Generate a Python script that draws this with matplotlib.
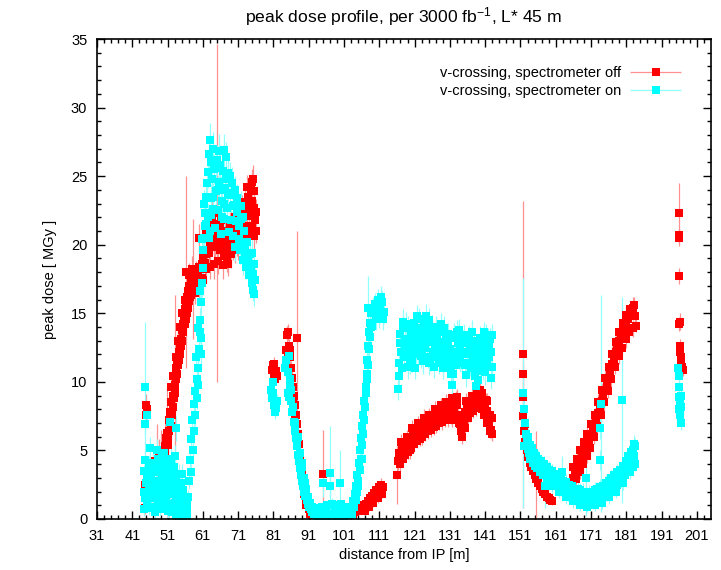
import numpy as np
import matplotlib
matplotlib.use('Agg')
import matplotlib.pyplot as plt
from matplotlib.legend_handler import HandlerErrorbar

# peak dose profile: (distance [m], dose [MGy], error [MGy])

# ---- v-crossing, spectrometer off ----
off_quads = [
    (44.5, 0.8, 0.4), (44.6, 2.5, 0.6), (44.7, 1.6, 0.5), (44.8, 8.3, 0.8), (45.0, 7.6, 0.7),
    (45.2, 8.0, 0.6), (46.4, 1.8, 0.9), (47.0, 3.4, 1.4), (47.4, 4.2, 0.8), (48.0, 3.9, 3.0),
    (48.6, 4.6, 1.2), (49.2, 4.3, 2.2), (49.8, 4.5, 1.0), (50.2, 5.3, 1.8), (50.6, 5.9, 1.0),
    (50.9, 6.3, 3.5), (51.2, 6.0, 0.8), (51.5, 7.2, 1.0), (51.8, 7.8, 1.2), (52.1, 8.5, 0.9),
    (52.4, 9.0, 1.0), (52.7, 9.6, 0.8), (53.0, 10.4, 1.1), (53.2, 9.8, 6.5), (53.5, 11.0, 0.9),
    (53.8, 11.6, 1.0), (54.1, 12.2, 0.8), (54.4, 12.6, 1.2), (54.7, 13.1, 0.9), (55.0, 13.8, 1.0),
    (55.3, 14.2, 0.8), (55.6, 14.8, 1.1), (55.9, 15.3, 0.9), (56.2, 18.0, 7.0), (56.2, 15.7, 0.8),
    (56.5, 16.2, 1.0), (56.8, 16.6, 0.9), (57.1, 17.0, 0.8), (57.5, 17.2, 1.0), (57.9, 17.0, 0.9),
    (58.3, 17.5, 4.4), (58.7, 17.4, 0.8), (59.1, 17.8, 1.0), (59.5, 17.9, 0.9), (59.9, 18.4, 0.8),
    (60.3, 18.2, 1.1), (60.7, 18.6, 0.9), (61.1, 19.0, 1.0), (61.5, 18.7, 0.8), (61.9, 19.3, 1.2),
    (62.3, 19.6, 0.9), (62.7, 19.4, 1.0), (63.1, 19.9, 0.8), (63.5, 21.8, 1.5), (63.5, 20.2, 0.9),
    (63.9, 20.6, 1.0), (64.3, 19.8, 0.8), (64.7, 20.4, 1.1), (64.9, 22.3, 12.3), (65.4, 20.9, 0.9),
    (65.8, 19.6, 1.0), (66.2, 20.3, 0.8), (66.6, 19.9, 1.2), (67.0, 19.2, 0.9), (67.4, 19.8, 1.0),
    (67.8, 20.5, 0.8), (68.2, 19.5, 1.1), (68.6, 20.1, 0.9), (69.0, 20.8, 1.0), (69.4, 19.7, 0.8),
    (69.8, 20.4, 1.0), (70.2, 21.0, 0.9), (70.6, 20.3, 1.1), (71.0, 21.5, 0.8), (71.4, 20.8, 1.0),
    (71.8, 21.9, 0.9), (72.2, 22.6, 1.0), (72.6, 21.4, 0.8), (73.0, 23.1, 1.1), (73.4, 24.2, 0.9),
    (73.8, 23.5, 1.0), (74.2, 22.1, 0.8), (74.6, 24.0, 1.0), (75.0, 23.2, 0.9), (75.4, 22.7, 1.1),
    (75.8, 21.8, 0.8), (76.2, 21.0, 0.9), (73.6, 22.5, 1.0), (74.9, 24.6, 0.9), (75.6, 23.9, 1.0),
    (60.0, 20.5, 1.0), (61.0, 17.4, 0.9), (62.0, 21.0, 1.2), (66.0, 21.8, 1.0), (68.0, 18.6, 0.9),
    (50.4, 4.8, 0.9), (51.0, 5.4, 1.0), (51.4, 6.4, 0.8), (51.9, 6.8, 1.1), (52.2, 7.6, 0.9),
    (52.5, 8.2, 1.0), (52.8, 8.8, 0.8), (53.1, 9.2, 1.0), (53.4, 10.2, 0.9), (53.7, 10.6, 1.1),
    (54.0, 11.2, 0.9), (54.3, 11.6, 1.0), (54.6, 12.0, 0.8), (54.9, 12.6, 1.1), (55.2, 13.0, 0.9),
    (55.5, 13.6, 1.0), (55.8, 14.2, 0.8), (56.1, 14.6, 1.0), (56.4, 15.0, 0.9), (56.7, 15.4, 1.1),
    (57.0, 15.9, 0.9), (57.3, 16.2, 1.0), (57.7, 16.3, 0.8), (52.0, 9.6, 1.0), (52.6, 10.4, 0.9),
    (53.3, 11.8, 1.0), (54.0, 13.0, 0.9), (54.6, 14.0, 1.1), (55.2, 15.0, 0.9), (55.8, 16.0, 1.0),
    (57.0, 17.8, 0.9), (58.0, 18.2, 1.0), (58.8, 16.5, 0.8), (59.8, 17.0, 1.0), (60.8, 17.6, 0.9),
    (62.0, 18.2, 1.0), (63.0, 18.4, 0.9), (64.2, 18.6, 1.1), (65.4, 18.8, 0.9), (66.6, 18.5, 1.0),
    (67.8, 18.9, 0.9), (69.0, 19.3, 1.0), (70.0, 19.6, 0.9), (71.0, 20.0, 1.1), (72.0, 20.6, 0.9),
    (72.8, 22.3, 1.0), (73.2, 20.8, 0.9), (74.0, 21.0, 1.0), (74.8, 21.4, 0.8), (75.5, 20.6, 1.0),
    (76.0, 22.4, 0.9), (75.2, 24.8, 1.0), (74.4, 23.0, 0.9), (62.5, 21.2, 1.0), (64.0, 21.5, 0.9),
    (65.8, 21.3, 1.0), (67.2, 21.0, 0.9), (68.6, 21.4, 1.0), (70.0, 22.0, 0.9),
]
off_arc = [
    (80.5, 10.9, 0.5), (80.8, 11.2, 0.4), (81.1, 10.6, 0.5), (81.4, 10.2, 0.4), (81.7, 10.8, 0.5),
    (82.0, 10.4, 0.4), (81.3, 11.3, 0.5), (84.6, 12.3, 0.6), (84.9, 13.4, 0.7), (85.2, 13.6, 0.6),
    (85.4, 12.6, 0.5), (85.6, 11.8, 0.6), (85.9, 11.0, 0.5), (86.2, 10.3, 0.6), (86.5, 9.6, 0.5),
    (86.8, 9.0, 0.6), (87.1, 8.3, 0.5), (87.6, 13.2, 7.8), (87.4, 7.6, 0.5), (87.7, 6.9, 0.4),
    (88.0, 6.2, 0.5), (88.3, 5.5, 0.4), (88.6, 4.7, 0.5), (88.9, 3.9, 0.4), (89.2, 3.2, 0.4),
    (89.5, 2.6, 0.3), (89.8, 2.0, 0.4), (90.2, 1.5, 0.3), (90.6, 1.0, 0.3), (91.0, 0.7, 0.3),
    (91.5, 0.4, 0.2), (92.0, 0.3, 0.2), (95.1, 3.3, 3.2), (103.5, 0.3, 0.2), (104.2, 0.5, 0.2),
    (104.8, 0.6, 0.3), (105.4, 0.7, 0.2), (106.0, 0.9, 0.3), (106.6, 1.0, 0.3), (107.2, 1.1, 0.3),
    (107.8, 1.3, 0.3), (108.4, 1.5, 0.4), (109.0, 1.7, 0.3), (109.6, 1.9, 0.4), (110.2, 2.1, 0.3),
    (110.8, 2.3, 0.4), (111.4, 2.5, 0.5), (112.0, 2.3, 0.4), (111.7, 1.8, 0.3), (110.5, 1.5, 0.3),
    (109.3, 1.2, 0.3), (108.2, 0.9, 0.3), (106.9, 0.6, 0.2),
    (85.0, 12.2, 0.6), (85.8, 12.3, 0.5), (86.0, 9.4, 0.6), (86.6, 8.4, 0.5), (87.2, 7.2, 0.5),
    (87.8, 5.8, 0.4), (88.4, 4.4, 0.5), (89.0, 3.0, 0.4), (89.6, 1.8, 0.3), (90.3, 1.0, 0.3),
]
off_plateau = [
    (116.0, 3.2, 2.1), (116.3, 4.2, 0.6), (116.6, 4.8, 0.5), (117.0, 4.5, 0.6), (117.4, 5.1, 0.5),
    (117.8, 4.9, 0.6), (118.2, 5.4, 0.5), (118.6, 5.2, 0.6), (119.0, 5.7, 0.5), (119.4, 5.5, 0.6),
    (119.8, 6.0, 0.5), (120.2, 5.8, 0.6), (120.6, 6.3, 0.5), (121.0, 6.1, 0.6), (121.4, 6.5, 0.5),
    (121.8, 6.2, 0.6), (122.2, 6.7, 0.5), (122.6, 6.4, 0.6), (123.0, 6.8, 0.5), (123.4, 6.5, 0.6),
    (123.8, 7.0, 0.5), (124.2, 6.7, 0.6), (124.6, 7.1, 0.5), (125.0, 6.9, 0.6), (125.4, 7.3, 0.5),
    (125.8, 7.0, 0.6), (126.2, 7.5, 0.5), (126.6, 7.2, 0.6), (127.0, 7.6, 0.5), (127.4, 7.3, 0.6),
    (127.8, 7.8, 0.5), (128.2, 7.5, 0.6), (128.6, 7.9, 0.5), (129.0, 7.6, 0.6), (129.4, 8.0, 0.5),
    (129.8, 7.7, 0.6), (130.2, 8.1, 0.5), (130.6, 7.6, 0.6), (131.0, 8.2, 0.5), (131.4, 7.9, 0.6),
    (131.8, 8.5, 0.5), (132.2, 8.1, 0.6), (132.6, 8.8, 0.5), (133.0, 8.3, 0.6), (133.4, 7.6, 0.5),
    (133.8, 6.9, 0.6), (134.2, 6.4, 0.5), (134.6, 6.6, 0.6), (135.0, 7.2, 0.5), (135.4, 7.8, 0.6),
    (135.8, 8.2, 0.5), (136.2, 8.5, 0.6), (136.6, 8.1, 0.5), (137.0, 8.6, 0.6), (137.4, 8.2, 0.5),
    (137.8, 8.8, 0.6), (138.2, 9.0, 0.5), (138.6, 8.6, 0.6), (139.0, 9.2, 0.5), (139.4, 9.4, 0.6),
    (139.8, 8.9, 0.5), (140.2, 8.6, 0.6), (140.6, 8.2, 0.5), (141.0, 8.4, 0.6), (141.4, 7.9, 0.5),
    (141.8, 7.4, 0.6), (142.2, 7.0, 0.5), (142.6, 6.5, 0.6), (142.9, 6.2, 0.5), (142.5, 7.6, 0.6),
    (141.2, 8.7, 0.5), (131.6, 7.2, 0.5), (127.2, 6.8, 0.5), (122.4, 5.8, 0.5), (119.2, 4.9, 0.5),
    (116.8, 4.0, 0.5), (117.6, 4.4, 0.6), (118.4, 4.7, 0.5), (119.6, 5.0, 0.6), (120.0, 5.2, 0.5),
    (120.8, 5.5, 0.6), (121.6, 5.7, 0.5), (123.2, 6.0, 0.6), (124.0, 6.2, 0.5), (124.8, 6.4, 0.6),
    (125.6, 6.5, 0.5), (126.4, 6.7, 0.6), (128.0, 7.0, 0.5), (128.8, 7.1, 0.6), (129.6, 7.2, 0.5),
    (130.4, 7.3, 0.6), (131.2, 7.4, 0.5), (132.0, 7.6, 0.6), (132.8, 7.6, 0.5), (133.6, 7.0, 0.6),
    (134.4, 6.0, 0.5), (135.2, 6.6, 0.6), (136.0, 7.4, 0.5), (136.8, 7.7, 0.6), (137.6, 7.9, 0.5),
    (138.4, 8.1, 0.6), (139.2, 8.3, 0.5), (140.0, 8.0, 0.6), (140.8, 7.6, 0.5), (141.6, 7.0, 0.6),
    (142.4, 6.4, 0.5), (117.2, 5.6, 0.6), (118.8, 6.0, 0.5), (120.4, 6.6, 0.6), (122.0, 7.0, 0.5),
    (123.6, 7.4, 0.6), (125.2, 7.6, 0.5), (126.8, 8.0, 0.6), (128.4, 8.3, 0.5), (130.0, 8.5, 0.6),
    (131.6, 8.8, 0.5), (132.9, 8.9, 0.6), (134.0, 7.4, 0.5), (135.6, 8.6, 0.6), (137.2, 9.0, 0.5),
    (138.8, 9.4, 0.6), (140.0, 9.2, 0.5), (141.6, 8.6, 0.6), (142.8, 7.4, 0.5),
]
off_valley = [
    (151.8, 12.0, 11.2), (151.8, 10.6, 0.8), (151.7, 8.9, 0.9), (151.7, 7.5, 0.8), (152.0, 6.4, 0.7),
    (152.4, 5.6, 0.6), (152.8, 5.0, 0.6), (153.2, 4.5, 0.5), (153.6, 4.1, 0.5), (154.0, 3.8, 0.5),
    (154.5, 3.5, 0.4), (155.0, 3.2, 0.4), (155.5, 2.9, 3.5), (156.0, 2.6, 0.4), (156.5, 2.4, 0.3),
    (157.0, 2.2, 0.3), (157.5, 2.0, 0.3), (158.0, 1.8, 0.3), (158.5, 1.6, 0.3), (159.0, 1.5, 0.3),
    (159.5, 1.4, 0.3), (160.0, 1.3, 0.3), (164.5, 2.1, 0.4), (165.0, 2.4, 0.4), (165.5, 2.7, 0.5),
    (166.0, 3.0, 0.5), (166.5, 3.3, 0.6), (167.0, 3.6, 0.5), (167.5, 3.9, 0.6), (168.0, 4.2, 0.5),
    (168.5, 4.5, 0.6), (169.0, 4.8, 0.5), (169.5, 5.1, 0.6), (170.0, 5.3, 0.5), (170.5, 5.6, 0.6),
    (171.0, 6.0, 0.5), (171.5, 6.4, 0.6), (172.0, 6.8, 0.5), (172.5, 7.3, 0.6), (173.0, 7.7, 0.5),
    (173.5, 8.1, 0.6), (174.0, 8.6, 0.5), (174.5, 9.0, 0.6), (175.0, 9.4, 0.5), (175.5, 9.9, 0.6),
    (176.0, 10.3, 0.5), (176.5, 10.8, 0.6), (177.0, 11.3, 0.5), (177.5, 11.7, 0.6), (178.0, 12.2, 0.5),
    (178.5, 12.6, 0.6), (179.0, 13.0, 0.5), (179.5, 13.4, 0.6), (180.0, 13.7, 0.5), (180.5, 14.0, 0.6),
    (181.0, 14.3, 0.5), (181.5, 14.6, 0.6), (182.0, 14.9, 0.5), (182.5, 15.2, 0.6), (183.0, 15.4, 0.8),
    (183.5, 14.8, 0.6), (183.8, 14.1, 0.5), (182.8, 13.9, 0.6), (181.8, 13.6, 0.5), (180.8, 13.1, 0.6),
    (179.8, 12.5, 0.5), (178.8, 11.9, 0.6), (177.8, 11.1, 0.5), (176.8, 10.2, 0.6), (175.8, 9.3, 0.5),
    (174.8, 8.5, 0.6), (173.8, 7.6, 0.5), (172.8, 6.8, 0.6), (171.8, 6.0, 0.5), (170.8, 5.2, 0.6),
    (169.8, 4.6, 0.5), (168.8, 4.0, 0.6), (167.8, 3.4, 0.5), (166.8, 2.9, 0.6),
    (166.0, 3.8, 0.5), (167.0, 4.4, 0.6), (168.0, 5.0, 0.5), (169.0, 5.6, 0.6), (170.0, 6.2, 0.5),
    (171.0, 6.9, 0.6), (172.0, 7.6, 0.5), (173.0, 8.5, 0.6), (174.0, 9.4, 0.5), (175.0, 10.3, 0.6),
    (176.0, 11.1, 0.5), (177.0, 12.0, 0.6), (178.0, 12.9, 0.5), (179.0, 13.6, 0.6), (180.0, 14.3, 0.5),
    (181.0, 14.9, 0.6), (182.0, 15.3, 0.5), (183.2, 15.6, 0.6), (152.2, 6.9, 0.6), (152.6, 6.0, 0.5),
    (153.0, 5.4, 0.5), (153.4, 4.9, 0.5), (153.9, 4.4, 0.4), (154.3, 4.0, 0.4), (154.8, 3.6, 0.4),
]
off_tail = [
    (195.9, 22.3, 2.2), (195.9, 20.5, 0.6), (196.0, 20.7, 0.5), (196.0, 17.7, 0.6), (196.0, 14.2, 0.5),
    (196.1, 14.4, 0.6), (196.2, 12.6, 0.5), (196.4, 11.8, 0.6), (196.6, 11.4, 0.5), (196.8, 11.1, 0.6),
    (197.0, 10.9, 0.5), (196.3, 12.2, 0.6),
]

# ---- v-crossing, spectrometer on ----
on_quads = [
    (44.2, 0.7, 0.5), (44.2, 2.0, 0.6), (44.2, 3.5, 0.5), (44.6, 9.6, 4.8), (44.6, 6.9, 0.8),
    (44.6, 4.3, 0.6), (44.6, 1.5, 0.5), (45.2, 7.6, 0.7), (45.2, 3.0, 0.6), (45.2, 1.0, 0.5),
    (45.8, 2.3, 0.7), (45.8, 4.0, 0.6), (45.8, 0.8, 0.5), (46.4, 3.2, 0.8), (46.4, 1.5, 0.6),
    (47.0, 4.1, 0.7), (47.0, 2.2, 0.6), (47.0, 0.9, 0.5), (47.6, 3.6, 0.8), (47.6, 1.6, 0.6),
    (48.2, 4.4, 0.7), (48.2, 2.8, 0.6), (48.2, 1.2, 0.5), (48.8, 3.9, 0.8), (48.8, 2.0, 0.6),
    (48.8, 0.7, 0.5), (49.4, 4.5, 0.7), (49.4, 3.1, 0.6), (49.4, 1.4, 0.5), (50.0, 3.7, 0.8),
    (50.0, 2.3, 0.6), (50.0, 0.9, 0.5), (50.6, 4.2, 0.7), (50.6, 2.9, 0.6), (50.6, 1.5, 0.5),
    (51.2, 3.5, 0.8), (51.2, 1.9, 0.6), (51.2, 0.6, 0.5), (51.7, 7.1, 0.9), (51.7, 3.9, 0.7),
    (51.7, 2.5, 0.6), (51.7, 1.1, 0.5), (52.3, 3.2, 0.8), (52.3, 1.8, 0.6), (52.3, 0.5, 0.5),
    (52.9, 3.8, 0.7), (52.9, 2.4, 0.6), (52.9, 0.9, 0.5), (53.5, 6.6, 0.9), (53.5, 2.9, 0.7),
    (53.5, 1.4, 0.6), (53.5, 0.3, 0.4), (54.1, 3.3, 0.7), (54.1, 1.9, 0.6), (54.1, 0.6, 0.4),
    (54.7, 2.6, 0.7), (54.7, 1.2, 0.5), (54.7, 0.2, 0.3), (55.3, 2.1, 0.6), (55.3, 0.8, 0.4),
    (55.3, 0.1, 0.3), (55.9, 1.6, 0.6), (55.9, 0.5, 0.4), (56.4, 1.1, 0.5), (56.4, 0.3, 0.3),
    (44.9, 2.6, 0.6), (45.5, 1.8, 0.5), (46.1, 3.5, 0.7), (46.7, 2.6, 0.6), (47.3, 0.5, 0.4),
    (47.9, 2.5, 0.6), (48.5, 3.4, 0.7), (49.1, 1.0, 0.5), (49.7, 2.6, 0.6), (50.3, 3.3, 0.7),
    (50.9, 0.8, 0.5), (51.5, 2.9, 0.6), (52.0, 4.4, 0.8), (52.6, 2.6, 0.6), (53.2, 1.2, 0.5),
    (53.8, 2.2, 0.6), (54.4, 1.3, 0.5), (55.0, 1.6, 0.5), (55.6, 0.4, 0.3), (56.1, 0.9, 0.4),
    (46.0, 5.2, 0.8), (48.0, 5.0, 0.8), (50.0, 4.8, 0.9), (53.0, 4.6, 0.8), (55.0, 3.3, 0.7),
    (56.6, 0.5, 0.3),
    (56.8, 1.6, 0.5), (57.1, 2.8, 0.6), (57.4, 4.3, 0.6), (57.7, 5.8, 0.7), (58.0, 7.2, 0.7),
    (58.4, 8.4, 0.8), (58.8, 9.3, 0.7), (59.2, 10.2, 0.8), (59.6, 11.0, 0.8), (59.9, 12.4, 0.9),
    (60.1, 13.6, 0.8), (60.3, 14.5, 0.9), (60.5, 15.8, 0.9), (60.7, 17.2, 1.0), (60.9, 18.3, 0.9),
    (61.1, 19.6, 1.0), (61.3, 20.5, 0.9), (61.5, 21.4, 1.1), (61.7, 22.3, 1.0), (61.9, 23.5, 1.1),
    (62.1, 24.5, 1.0), (62.4, 25.3, 1.2), (62.7, 26.6, 1.1), (63.0, 27.6, 1.3), (63.3, 26.0, 1.1),
    (57.6, 3.4, 0.6), (58.1, 5.0, 0.7), (58.5, 6.4, 0.7), (58.9, 7.6, 0.8), (59.3, 8.8, 0.8),
    (59.7, 9.8, 0.8), (60.4, 12.0, 0.9), (60.6, 13.2, 0.9),
    (59.0, 11.8, 0.8), (59.6, 13.9, 0.9), (60.2, 16.6, 0.9), (60.8, 20.4, 1.0), (61.4, 23.0, 1.0),
    (62.5, 22.0, 1.0), (62.8, 20.5, 1.1), (63.2, 23.4, 1.0), (63.6, 24.8, 1.2), (63.9, 22.6, 1.0),
    (64.2, 25.5, 1.1), (64.5, 21.2, 1.0), (64.8, 23.9, 1.2), (65.1, 26.2, 1.1), (65.4, 22.5, 1.0),
    (65.7, 24.6, 1.2), (66.0, 20.8, 1.0), (66.3, 23.2, 1.1), (66.6, 25.4, 1.0), (66.9, 21.9, 1.2),
    (67.2, 24.1, 1.0), (67.5, 26.4, 1.1), (67.8, 22.7, 1.0), (68.1, 25.2, 1.2), (68.4, 20.9, 1.0),
    (68.7, 23.6, 1.1), (69.0, 21.8, 1.0), (69.3, 24.5, 1.2), (69.6, 20.6, 1.0), (69.9, 22.9, 1.1),
    (70.2, 19.8, 1.0), (70.5, 21.7, 1.2), (70.8, 23.4, 1.0), (71.1, 20.4, 1.1), (71.4, 19.6, 1.0),
    (71.7, 21.9, 1.2), (72.0, 20.1, 1.0), (72.3, 18.9, 1.1), (72.6, 21.0, 1.0), (72.9, 19.4, 1.0),
    (73.2, 18.4, 0.9), (73.5, 20.2, 1.0), (73.8, 19.0, 0.9), (74.1, 17.8, 1.0), (74.4, 19.3, 0.9),
    (74.7, 18.0, 1.0), (75.0, 17.2, 0.9), (75.3, 16.7, 0.8), (75.6, 16.4, 0.9), (75.3, 17.9, 0.9),
    (64.0, 27.0, 1.2), (65.5, 26.8, 1.3), (67.0, 26.9, 1.2), (62.0, 21.5, 1.0), (66.0, 24.0, 1.0),
    (63.0, 21.0, 1.0), (63.4, 22.2, 1.1), (64.0, 23.5, 1.0), (64.6, 25.6, 1.2), (65.2, 24.0, 1.0),
    (65.9, 25.8, 1.1), (66.5, 22.0, 1.0), (67.0, 23.0, 1.2), (67.6, 24.8, 1.0), (68.2, 23.8, 1.1),
    (68.8, 25.0, 1.0), (69.4, 22.8, 1.2), (70.0, 24.0, 1.0), (70.6, 22.4, 1.1), (71.2, 21.4, 1.0),
    (71.8, 22.8, 1.1), (72.4, 22.0, 1.0), (73.0, 19.8, 1.0), (74.2, 18.6, 0.9), (74.8, 19.4, 1.0),
    (75.4, 18.6, 0.9), (75.8, 17.4, 0.9),
]
on_arc = [
    (80.3, 9.4, 0.5), (80.6, 8.8, 0.5), (80.9, 9.2, 0.6), (81.2, 8.3, 0.5), (81.5, 7.8, 0.5),
    (81.8, 8.1, 0.6), (82.1, 8.6, 0.5), (81.0, 10.0, 0.5), (84.3, 11.0, 0.6), (84.7, 11.6, 0.7),
    (85.0, 10.7, 0.6), (85.3, 11.9, 0.6), (85.6, 10.2, 0.5), (85.2, 9.2, 0.6), (85.5, 8.9, 0.5),
    (85.8, 9.6, 0.6), (86.1, 8.6, 0.5), (86.4, 7.8, 0.6), (86.7, 7.1, 0.5), (87.0, 6.4, 0.6),
    (87.3, 5.9, 0.5), (87.6, 5.3, 0.5), (87.9, 4.7, 0.5), (88.2, 4.2, 0.4), (88.5, 3.7, 0.5),
    (88.8, 3.2, 0.4), (89.1, 2.8, 0.4), (89.4, 2.4, 0.4), (89.7, 2.0, 0.3), (90.0, 1.7, 0.4),
    (90.4, 1.4, 0.3), (90.8, 1.1, 0.3), (91.2, 0.9, 0.3), (91.6, 0.7, 0.3), (92.0, 0.5, 0.2),
    (92.5, 0.4, 0.2), (93.0, 0.3, 0.2), (93.5, 0.25, 0.2), (94.0, 0.5, 0.3), (94.5, 0.2, 0.2),
    (95.0, 0.4, 0.2), (95.1, 2.6, 1.0), (95.5, 0.3, 0.2), (96.0, 0.6, 0.3), (96.5, 0.2, 0.2),
    (97.0, 3.35, 3.4), (97.0, 2.4, 0.8), (97.0, 0.4, 0.2), (97.5, 1.1, 0.4), (98.0, 0.3, 0.2),
    (98.5, 0.6, 0.3), (99.0, 0.2, 0.2), (99.8, 2.6, 2.4), (99.5, 0.5, 0.3), (100.0, 0.3, 0.2),
    (100.5, 0.8, 0.3), (101.0, 0.2, 0.2), (101.5, 0.5, 0.2), (102.0, 0.3, 0.2), (102.5, 0.6, 0.3),
    (103.0, 0.9, 0.3), (103.5, 1.3, 0.3), (104.0, 1.8, 0.4), (104.4, 2.4, 0.4), (104.8, 3.2, 0.4),
    (105.2, 4.1, 0.5), (105.6, 5.0, 0.5), (105.9, 5.9, 0.5), (106.2, 6.8, 0.6), (106.5, 7.6, 0.6),
    (106.8, 8.6, 0.6), (107.1, 9.6, 0.7), (107.4, 10.6, 0.7), (107.6, 11.6, 0.7), (107.8, 12.6, 0.8),
    (108.0, 13.6, 0.8), (108.3, 14.3, 0.8), (108.7, 15.0, 0.9), (109.1, 15.4, 0.8), (109.5, 15.0, 0.9),
    (109.9, 15.7, 0.8), (110.3, 15.3, 0.9), (110.7, 16.0, 0.8), (111.1, 15.6, 0.9), (111.5, 16.2, 0.8),
    (111.9, 15.8, 0.9), (112.2, 15.1, 0.8), (108.5, 13.3, 0.8), (109.0, 14.1, 0.8), (107.9, 15.4, 2.3),
    (88.0, 6.0, 0.5), (89.0, 4.1, 0.5), (90.0, 2.6, 0.4), (105.0, 2.4, 0.4), (106.0, 4.4, 0.5),
    (86.0, 9.4, 0.6), (86.6, 8.2, 0.5), (87.2, 7.0, 0.6), (87.8, 5.8, 0.5), (88.4, 4.8, 0.5),
    (89.0, 3.8, 0.4), (89.6, 3.0, 0.4), (90.2, 2.2, 0.4), (90.8, 1.6, 0.3), (91.4, 1.2, 0.3),
    (92.0, 0.9, 0.3), (92.8, 0.7, 0.3), (93.8, 0.8, 0.3), (94.8, 0.9, 0.3), (96.2, 1.0, 0.3),
    (98.4, 1.0, 0.3), (100.2, 1.1, 0.3), (101.8, 0.9, 0.3), (102.8, 0.4, 0.2), (103.4, 0.3, 0.2),
    (103.9, 0.9, 0.3), (104.3, 1.4, 0.3), (104.7, 2.0, 0.4), (105.1, 2.8, 0.4), (105.5, 3.6, 0.5),
    (105.8, 4.4, 0.5), (106.1, 5.4, 0.5), (106.4, 6.2, 0.6), (106.7, 7.2, 0.6), (107.0, 8.2, 0.6),
    (107.3, 9.2, 0.7), (107.5, 10.2, 0.7), (107.7, 11.2, 0.7), (108.1, 12.4, 0.8), (108.6, 14.0, 0.8),
    (110.0, 14.6, 0.8), (111.0, 14.8, 0.9), (112.0, 14.6, 0.8),
]
on_plateau = [
    (116.3, 9.5, 0.8), (116.5, 11.4, 0.9), (116.8, 13.5, 0.8), (117.2, 12.2, 0.9), (117.6, 13.9, 0.8),
    (118.0, 11.8, 0.9), (118.4, 13.1, 0.8), (118.8, 12.6, 0.9), (119.2, 14.0, 0.8), (119.6, 12.0, 0.9),
    (120.0, 13.5, 0.8), (120.4, 11.6, 0.9), (120.8, 14.3, 0.8), (121.2, 12.8, 0.9), (121.6, 14.8, 0.8),
    (122.0, 12.3, 0.9), (122.4, 13.9, 0.8), (122.8, 11.9, 0.9), (123.2, 13.4, 0.8), (123.6, 14.2, 0.9),
    (124.0, 12.5, 0.8), (124.4, 13.7, 0.9), (124.8, 11.8, 0.8), (125.2, 14.5, 0.9), (125.6, 12.9, 0.8),
    (126.0, 13.6, 0.9), (126.4, 11.1, 0.8), (126.8, 12.4, 0.9), (127.2, 14.0, 0.8), (127.6, 12.7, 0.9),
    (128.0, 13.6, 0.8), (128.4, 11.9, 0.9), (128.8, 12.8, 0.8), (129.2, 13.9, 0.9), (129.6, 11.7, 0.8),
    (130.0, 12.6, 0.9), (130.4, 13.5, 0.8), (130.8, 12.1, 0.9), (131.2, 11.0, 0.8), (131.6, 9.8, 0.9),
    (132.0, 10.6, 0.8), (132.4, 12.2, 0.9), (132.8, 13.2, 0.8), (133.2, 12.0, 0.9), (133.6, 13.8, 0.8),
    (134.0, 12.4, 0.9), (134.4, 11.4, 0.8), (134.8, 12.9, 0.9), (135.2, 11.2, 0.8), (135.6, 10.5, 0.9),
    (136.0, 12.0, 0.8), (136.4, 13.2, 0.9), (136.8, 12.3, 0.8), (137.2, 13.6, 0.9), (137.6, 11.8, 0.8),
    (138.0, 10.4, 0.9), (138.4, 9.7, 0.8), (138.8, 11.2, 0.9), (139.2, 12.6, 0.8), (139.6, 11.4, 0.9),
    (140.0, 12.2, 0.8), (140.4, 11.0, 0.9), (140.8, 12.5, 0.8), (141.2, 13.3, 0.9), (141.6, 11.9, 0.8),
    (142.0, 12.7, 0.9), (142.4, 13.1, 0.8), (142.8, 11.1, 0.9), (142.6, 10.3, 0.8), (141.0, 10.7, 0.9),
    (139.0, 10.1, 0.8), (137.0, 11.0, 0.9), (129.0, 11.0, 0.8), (125.0, 11.4, 0.9), (121.0, 11.0, 0.8),
    (119.0, 11.1, 0.9),
    (116.6, 10.4, 0.8), (117.0, 12.8, 0.9), (117.4, 11.0, 0.8), (117.8, 14.4, 0.9), (118.2, 12.4, 0.8),
    (118.6, 14.2, 0.9), (119.0, 12.8, 0.8), (119.4, 13.0, 0.9), (119.8, 11.4, 0.8), (120.2, 12.4, 0.9),
    (120.6, 13.0, 0.8), (121.0, 13.8, 0.9), (121.4, 12.0, 0.8), (121.8, 13.4, 0.9), (122.2, 14.6, 0.8),
    (122.6, 13.0, 0.9), (123.0, 12.4, 0.8), (123.4, 11.5, 0.9), (123.8, 13.2, 0.8), (124.2, 14.8, 0.9),
    (124.6, 12.9, 0.8), (125.0, 13.2, 0.9), (125.4, 11.6, 0.8), (125.8, 14.0, 0.9), (126.2, 12.2, 0.8),
    (126.6, 13.4, 0.9), (127.0, 11.8, 0.8), (127.4, 13.2, 0.9), (127.8, 11.4, 0.8), (128.2, 12.9, 0.9),
    (128.6, 14.2, 0.8), (129.0, 12.2, 0.9), (129.4, 12.6, 0.8), (129.8, 13.4, 0.9), (130.2, 11.6, 0.8),
    (130.6, 13.0, 0.9), (131.0, 12.4, 0.8), (131.4, 10.6, 0.9), (131.8, 11.6, 0.8), (132.2, 13.4, 0.9),
    (132.6, 11.2, 0.8), (133.0, 13.6, 0.9), (133.4, 12.8, 0.8), (133.8, 11.6, 0.9), (134.2, 13.2, 0.8),
    (134.6, 12.2, 0.9), (135.0, 13.4, 0.8), (135.4, 12.2, 0.9), (135.8, 11.4, 0.8), (136.2, 12.8, 0.9),
    (136.6, 11.2, 0.8), (137.0, 12.8, 0.9), (137.4, 12.4, 0.8), (137.8, 13.0, 0.9), (138.2, 11.6, 0.8),
    (138.6, 10.8, 0.9), (139.0, 12.0, 0.8), (139.4, 13.2, 0.9), (139.8, 12.6, 0.8), (140.2, 11.6, 0.9),
    (140.6, 13.6, 0.8), (141.0, 12.0, 0.9), (141.4, 11.2, 0.8), (141.8, 13.0, 0.9), (142.2, 11.8, 0.8),
    (142.6, 12.2, 0.9), (142.9, 13.4, 0.8),
]
on_valley = [
    (151.8, 9.2, 8.4), (152.0, 8.0, 0.8), (151.9, 5.3, 0.7), (152.3, 7.0, 0.7), (152.6, 6.2, 0.6),
    (152.9, 5.6, 0.6), (153.2, 5.1, 0.6), (153.5, 4.8, 0.5), (153.8, 4.4, 0.6), (154.2, 4.6, 0.5),
    (154.6, 4.1, 0.6), (155.0, 3.9, 0.5), (155.4, 4.3, 0.6), (155.8, 3.7, 0.5), (156.2, 3.9, 0.6),
    (156.6, 3.4, 0.5), (157.0, 3.7, 0.6), (157.5, 3.2, 0.5), (158.0, 3.5, 0.6), (158.5, 3.0, 0.5),
    (159.0, 3.3, 0.6), (159.5, 2.8, 0.5), (160.0, 3.0, 0.6), (160.5, 2.6, 0.5), (161.0, 2.9, 0.6),
    (161.5, 2.4, 0.5), (162.0, 2.7, 0.6), (162.5, 2.2, 0.5), (163.0, 2.5, 0.6), (163.5, 2.0, 0.5),
    (164.0, 2.3, 0.6), (164.5, 1.8, 0.5), (165.0, 2.1, 0.6), (165.5, 1.7, 0.5), (166.0, 1.9, 0.6),
    (166.5, 1.5, 0.5), (167.0, 1.8, 0.6), (167.5, 1.4, 0.5), (168.0, 1.7, 0.6), (168.5, 1.3, 0.5),
    (169.0, 1.6, 0.6), (169.5, 1.2, 0.5), (170.0, 1.5, 0.6), (170.5, 1.3, 0.5), (171.0, 1.6, 0.6),
    (171.5, 1.2, 0.5), (172.0, 1.7, 0.6), (172.5, 1.4, 0.5), (173.0, 1.8, 0.6), (173.5, 1.5, 0.5),
    (173.8, 8.4, 7.9), (173.6, 6.6, 0.8), (173.5, 4.3, 0.7), (174.0, 1.9, 0.6), (174.5, 1.6, 0.5),
    (175.0, 2.1, 0.6), (175.5, 1.8, 0.5), (176.0, 2.3, 0.6), (176.5, 2.0, 0.5), (177.0, 2.5, 0.6),
    (177.5, 2.2, 0.5), (178.0, 2.8, 0.6), (178.5, 2.5, 0.5), (179.0, 3.1, 0.6), (179.5, 2.8, 0.5),
    (179.9, 8.7, 7.5), (180.0, 3.4, 0.6), (180.5, 3.2, 0.5), (181.0, 3.9, 0.6), (181.5, 3.7, 0.5),
    (182.0, 4.4, 0.6), (182.5, 4.2, 0.5), (183.0, 5.0, 0.6), (183.3, 4.6, 0.5), (183.6, 5.3, 0.6),
    (182.8, 3.8, 0.5), (169.7, 3.0, 2.8), (162.8, 3.4, 1.2), (158.0, 2.4, 1.6),
    (153.0, 6.0, 0.6), (153.6, 5.4, 0.6), (154.2, 5.2, 0.5), (154.8, 4.8, 0.6), (155.4, 4.6, 0.5),
    (156.0, 4.4, 0.6), (156.8, 4.2, 0.5), (157.6, 4.0, 0.6), (158.4, 3.8, 0.5), (159.2, 3.6, 0.6),
    (160.0, 3.5, 0.5), (160.8, 3.3, 0.6), (161.6, 3.1, 0.5), (162.4, 2.9, 0.6), (163.2, 2.8, 0.5),
    (164.0, 2.7, 0.6), (164.8, 2.5, 0.5), (165.6, 2.4, 0.6), (166.4, 2.2, 0.5), (167.2, 2.2, 0.6),
    (168.0, 2.1, 0.5), (168.8, 2.0, 0.6), (169.6, 2.0, 0.5), (170.4, 1.9, 0.6), (171.2, 2.0, 0.5),
    (172.0, 2.1, 0.6), (172.8, 2.2, 0.5), (173.6, 2.3, 0.6), (174.4, 2.4, 0.5), (175.2, 2.6, 0.6),
    (176.0, 2.8, 0.5), (176.8, 3.0, 0.6), (177.6, 3.2, 0.5), (178.4, 3.4, 0.6), (179.2, 3.6, 0.5),
    (180.0, 3.9, 0.6), (180.8, 4.2, 0.5), (181.6, 4.6, 0.6), (182.4, 4.9, 0.5), (183.2, 5.5, 0.6),
    (183.6, 4.0, 0.5), (160.0, 2.4, 0.5), (162.0, 2.0, 0.5), (164.0, 1.6, 0.5), (166.0, 1.3, 0.5),
    (168.0, 1.0, 0.4), (170.0, 0.9, 0.4), (172.0, 1.0, 0.4), (174.0, 1.2, 0.5), (176.0, 1.6, 0.5),
    (178.0, 2.0, 0.5), (180.0, 2.6, 0.5), (182.0, 3.4, 0.5),
]
on_tail = [
    (195.7, 11.0, 0.6), (195.8, 10.4, 0.5), (196.0, 9.65, 0.6), (195.9, 8.9, 0.5), (196.1, 8.4, 0.6),
    (196.0, 8.0, 0.5), (196.3, 7.6, 0.6), (196.5, 7.0, 0.5), (196.6, 8.2, 0.6), (196.4, 9.0, 0.5),
]

off_data = np.array(off_quads + off_arc + off_plateau + off_valley + off_tail)
on_data = np.array(on_quads + on_arc + on_plateau + on_valley + on_tail)

plt.rcParams['font.family'] = ['Liberation Sans', 'DejaVu Sans']
plt.rcParams['mathtext.default'] = 'regular'
plt.rcParams['font.size'] = 10.5

fig = plt.figure(figsize=(7.21, 5.70), dpi=100)
ax = fig.add_axes([97/721, 1 - 519/570, 614/721, 480/570])

style = dict(fmt='s', ms=6.4, mew=0, elinewidth=0.9, capsize=4, capthick=0.9)
ax.errorbar(off_data[:, 0], off_data[:, 1], yerr=off_data[:, 2],
            color='#ff0000', ecolor='#ff9090', **style)
ax.errorbar(on_data[:, 0], on_data[:, 1], yerr=on_data[:, 2],
            color='#00ffff', ecolor='#90ffff', **style)

# legend proxies drawn gnuplot-style (horizontal bar with caps), placed off-canvas
h1 = ax.errorbar([-100], [-100], xerr=[1], color='#ff0000', ecolor='#ff9090', **style)
h2 = ax.errorbar([-100], [-100], xerr=[1], color='#00ffff', ecolor='#90ffff', **style)
ax.legend([h1, h2], ['v-crossing, spectrometer off', 'v-crossing, spectrometer on'],
          handler_map={h1: HandlerErrorbar(xerr_size=1.75, yerr_size=0.45),
                       h2: HandlerErrorbar(xerr_size=1.75, yerr_size=0.45)},
          loc='upper right', bbox_to_anchor=((682 - 97) / 614, (519 - 66) / 480),
          frameon=False, markerfirst=False, handlelength=3.6, handletextpad=0.6,
          labelspacing=0.25, borderpad=0, borderaxespad=0, numpoints=1)

ax.set_xlim(31, 205)
ax.set_ylim(0, 35)
ax.set_xticks(np.arange(31, 202, 10))
ax.set_xticks(np.arange(31, 205, 2), minor=True)
ax.set_yticks(np.arange(0, 36, 5))
ax.set_yticks(np.arange(0, 36, 1), minor=True)
ax.tick_params(which='both', direction='in', top=True, right=True, width=1)
ax.tick_params(which='major', length=6, pad=7)
ax.tick_params(which='minor', length=3)
for s in ax.spines.values():
    s.set_linewidth(1.2)

ax.set_xlabel('distance from IP [m]', labelpad=4)
ax.set_ylabel('peak dose [ MGy ]', labelpad=10)
ax.set_title(r'peak dose profile, per 3000 fb$^{-1}$, L* 45 m', pad=12)

fig.savefig('out.png', dpi=100)
